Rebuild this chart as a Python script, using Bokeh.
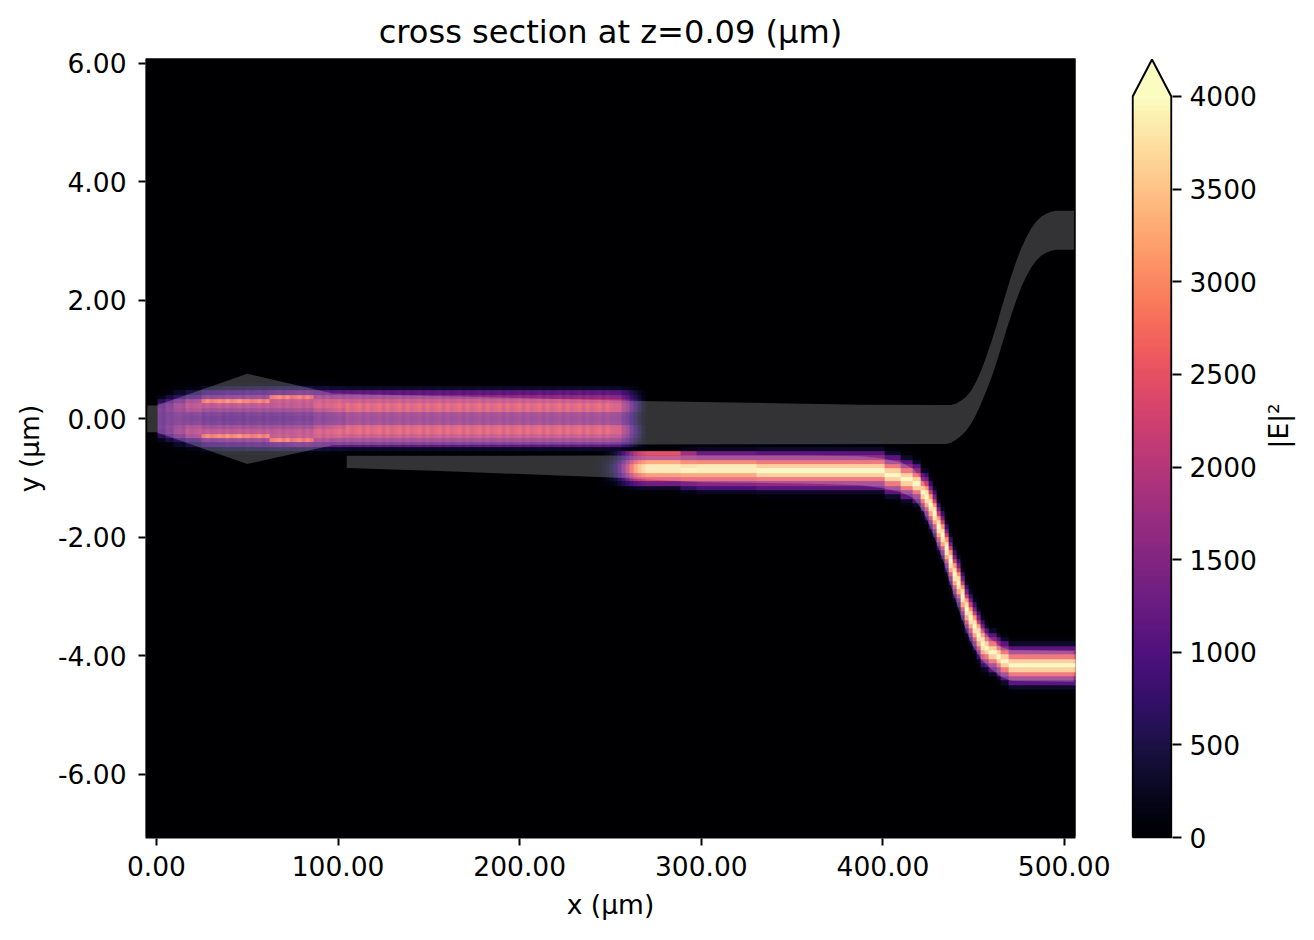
from math import pi

import numpy as np
from bokeh.embed import file_html
from bokeh.layouts import row
from bokeh.models import FixedTicker, LinearColorMapper, NumeralTickFormatter, Range1d
from bokeh.palettes import Magma256
from bokeh.plotting import figure
from bokeh.resources import INLINE

FONT = "DejaVu Sans"

x_ticks = [0, 100, 200, 300, 400, 500]
y_ticks = [-6, -4, -2, 0, 2, 4, 6]
cbar_ticks = [0, 500, 1000, 1500, 2000, 2500, 3000, 3500, 4000]

# waveguide outlines (um)
upper_guide_x = [-5, 0, 50, 97, 267, 388, 434.7, 437.4, 440.2, 442.9, 445.7, 448.5, 451.2, 454, 456.7, 459.5, 462.3, 465, 467.8, 470.5,
                 473.3, 476, 478.8, 481.5, 484.3, 487.1, 489.8, 492.6, 495.3, 498, 505.2,
                 505.2, 498, 495.3, 492.6, 489.8, 487.1, 484.3, 481.5, 478.8, 476, 473.3, 470.5, 467.8, 465, 462.3, 459.5,
                 456.7, 454, 451.2, 448.5, 445.7, 442.9, 440.2, 437.4, 434.7, 100, 97, 50, 0, -5]
upper_guide_y = [0.225, 0.225, 0.76, 0.43, 0.30, 0.24, 0.236, 0.236, 0.253, 0.304, 0.371, 0.473, 0.624, 0.81, 1.03, 1.283, 1.553, 1.84, 2.127, 2.397,
                 2.65, 2.869, 3.055, 3.207, 3.325, 3.409, 3.46, 3.494, 3.51, 3.51, 3.51,
                 2.852, 2.852, 2.852, 2.835, 2.802, 2.751, 2.667, 2.549, 2.397, 2.211, 1.992, 1.738, 1.485, 1.198, 0.928, 0.675,
                 0.456, 0.253, 0.068, -0.084, -0.203, -0.287, -0.354, -0.405, -0.422, -0.44, -0.445, -0.76, -0.225, -0.225]
lower_guide_x = [104.8, 250, 300, 355, 388, 400, 410, 417, 422.5, 428, 433.6, 437.4, 442.9, 448.5, 454, 459.5, 465, 470.5, 505,
                 505, 470.5, 465, 459.5, 454, 448.5, 442.9, 437.4, 433.6, 428, 422.5, 417, 410, 400, 388, 355, 300, 250, 156, 104.8]
lower_guide_y = [-0.624, -0.62, -0.62, -0.62, -0.63, -0.67, -0.73, -0.85, -1.08, -1.47, -1.93, -2.31, -2.82, -3.27, -3.54, -3.72, -3.85, -3.90, -3.915,
                 -4.435, -4.42, -4.35, -4.22, -4.05, -3.78, -3.33, -2.82, -2.43, -1.97, -1.58, -1.34, -1.24, -1.17, -1.12, -1.09, -1.07, -0.99, -0.878, -0.83]

# |E|^2 across the upper guide, centre row outwards, one list per stretch of x
upper_edges = [0, 5, 10, 16, 24, 35, 50, 62, 74, 86, 95, 105, 252]
upper_rows = [
    [1100, 1100, 1150, 1050, 600, 200, 40, 0, 0],
    [1200, 1200, 1350, 1300, 950, 450, 120, 30, 0],
    [1250, 1300, 1550, 1650, 1300, 700, 300, 80, 10],
    [1200, 1300, 1750, 1950, 1700, 950, 500, 150, 40],
    [1100, 1200, 1600, 1950, 2750, 1400, 850, 300, 70],
    [1050, 1150, 1600, 1950, 2850, 1500, 950, 400, 100],
    [1100, 1200, 1600, 1950, 2700, 1550, 1000, 450, 110],
    [1100, 1200, 1600, 1950, 2050, 2750, 1150, 500, 120],
    [1150, 1250, 1650, 2000, 2050, 2650, 1250, 500, 120],
    [1350, 1400, 1950, 2250, 2150, 1750, 1150, 400, 100],
    [1450, 1500, 2150, 2350, 2200, 1650, 1150, 350, 80],
    [1600, 1650, 2350, 2400, 2100, 1650, 1150, 300, 60],
]
upper_fade_x = [252, 254.2, 256.4, 258.6, 260.8, 263, 265.2, 267.4, 269.6]
upper_fade = [0.95, 0.9, 0.8, 0.65, 0.5, 0.35, 0.2, 0.1]
ripple = [1.04, 0.96, 1.0, 1.05, 0.95]

# lower guide: rows top to bottom around the centre line
lower_entry_rows = [0, 20, 100, 2500, 2000, 3100, 3800, 3800, 3000, 2400, 1300, 300, 50, 0, 0]
lower_mid_rows = [0, 40, 200, 1800, 1800, 2850, 3700, 3900, 3100, 2500, 1450, 700, 150, 30, 0]
lower_near_rows = [0, 50, 250, 1250, 1650, 2800, 3800, 3850, 3100, 2500, 1550, 950, 250, 50, 0]
lower_flat_rows = [0, 80, 300, 1100, 1650, 2600, 3500, 3950, 3500, 2600, 1650, 1100, 300, 80, 0]
lower_bend_rows = [0, 50, 250, 800, 1400, 2200, 3100, 3700, 3950, 3700, 3100, 2200, 1400, 800, 250, 50, 0]
lower_fade_x = [240, 242.2, 244.4, 246.6, 248.8, 251, 253.2, 255.4, 257.6, 259.8, 262, 264.2, 266.4, 268.6, 270.8, 273, 275.2, 277.4]
lower_fade = [0.02, 0.03, 0.05, 0.08, 0.12, 0.18, 0.28, 0.4, 0.55, 0.7, 0.82, 0.9, 0.95, 1.0, 1.0, 1.0, 1.0]
lower_fade_y = -0.86
lower_runs_x = [277.4, 288, 298, 330, 370, 396]
lower_runs_y = [-0.86, -0.86, -0.86, -0.86, -0.88]
bend_x = [396, 398.2, 400.4, 402.6, 404.8, 407, 409.2, 411.4, 413.6, 415.8, 418, 420.2, 422.4, 424.6, 426.8, 429, 431.2, 433.4,
          435.6, 437.8, 440, 442.2, 444.4, 446.6, 448.8, 451, 453.2, 455.4, 457.6, 459.8, 462, 464.2, 466.4, 468.6, 470.8]
bend_y = [-0.90, -0.91, -0.925, -0.94, -0.955, -0.97, -0.99, -1.015, -1.045, -1.08, -1.13, -1.21, -1.33, -1.47, -1.63, -1.80, -1.98, -2.16,
          -2.38, -2.60, -2.80, -3.01, -3.20, -3.38, -3.54, -3.67, -3.77, -3.85, -3.91, -3.97, -4.03, -4.08, -4.12, -4.15, -4.17]
end_x = [473, 506]
end_y = -4.18

dx = 2.2
dy = 0.073
x0 = -6.0
y0 = -96.5 * dy
field = np.zeros((182, 233))


def paint(left, right, centre, rows_, amp=1.0):
    c0 = int(round((left - x0) / dx))
    c1 = int(round((right - x0) / dx))
    r0 = int(round((centre - y0) / dy - 0.5))
    half = len(rows_) // 2
    for i, v in enumerate(rows_):
        r = r0 + half - i
        field[r, c0:c1] = np.maximum(field[r, c0:c1], v * amp)


def mirror(rows_):
    return rows_[:0:-1] + rows_


# upper guide, with the faint column beat seen along it
for i, rows_ in enumerate(upper_rows):
    paint(upper_edges[i], upper_edges[i + 1], 0.0, mirror(rows_))
for i, amp in enumerate(upper_fade):
    paint(upper_fade_x[i], upper_fade_x[i + 1], 0.0, mirror(upper_rows[-1]), amp)
upper_stop = int(round((upper_fade_x[-1] - x0) / dx))
for c in range(upper_stop):
    field[:, c] *= ripple[c % len(ripple)]

# lower guide
for i, amp in enumerate(lower_fade):
    paint(lower_fade_x[i], lower_fade_x[i + 1], lower_fade_y, lower_entry_rows, amp)
run_rows = [lower_entry_rows, lower_mid_rows, lower_near_rows, lower_flat_rows, lower_flat_rows]
for i, y in enumerate(lower_runs_y):
    paint(lower_runs_x[i], lower_runs_x[i + 1], y, run_rows[i])
for i in range(len(bend_x)):
    rows_ = lower_bend_rows if 12 <= i <= 26 else lower_flat_rows
    paint(bend_x[i], bend_x[i] + dx, bend_y[i], rows_)
paint(end_x[0], end_x[1], end_y, lower_flat_rows)

mapper = LinearColorMapper(palette=Magma256, low=0, high=4000)

p = figure(
    width=1110, height=932, x_range=Range1d(-6, 506), y_range=Range1d(-7.08, 6.08),
    title="cross section at z=0.09 (µm)", x_axis_label="x (µm)", y_axis_label="y (µm)",
    output_backend="svg", toolbar_location=None,
    min_border_left=145, min_border_right=35, min_border_top=58, min_border_bottom=94,
)
p.image(image=[field], x=x0, y=y0, dw=field.shape[1] * dx, dh=field.shape[0] * dy, color_mapper=mapper)
p.patch(upper_guide_x, upper_guide_y, fill_color="white", fill_alpha=0.2, line_color=None)
p.patch(lower_guide_x, lower_guide_y, fill_color="white", fill_alpha=0.2, line_color=None)

p.background_fill_color = Magma256[0]
p.grid.visible = False
p.outline_line_color = None
p.title.align = "center"
p.title.text_font = FONT
p.title.text_font_size = "32.1px"
p.title.text_font_style = "normal"
p.title.text_color = "black"
p.title.standoff = 15
p.xaxis.ticker = FixedTicker(ticks=x_ticks)
p.yaxis.ticker = FixedTicker(ticks=y_ticks)
for ax in (p.xaxis[0], p.yaxis[0]):
    ax.formatter = NumeralTickFormatter(format="0.00")
    ax.axis_line_color = None
    ax.major_tick_line_color = "black"
    ax.major_tick_line_width = 2
    ax.major_tick_in = 0
    ax.major_tick_out = 7
    ax.minor_tick_line_color = None
    ax.major_label_text_font = FONT
    ax.major_label_text_font_size = "26.5px"
    ax.major_label_text_color = "black"
    ax.axis_label_text_font = FONT
    ax.axis_label_text_font_size = "26.5px"
    ax.axis_label_text_font_style = "normal"
    ax.axis_label_text_color = "black"
p.xaxis[0].major_label_standoff = 10
p.xaxis[0].axis_label_standoff = 10
p.yaxis[0].major_label_standoff = 12
p.yaxis[0].axis_label_standoff = 10

# colour bar with an "extend" arrow on top
levels = np.linspace(0, 4000, 256).reshape(-1, 1)
cb = figure(
    width=202, height=932, x_range=Range1d(-0.03, 1.03), y_range=Range1d(-5, 4205),
    x_axis_location=None, y_axis_location="right", y_axis_label="|E|²",
    output_backend="svg", toolbar_location=None,
    min_border_left=21, min_border_right=140, min_border_top=58, min_border_bottom=94,
)
cb.image(image=[levels], x=0, y=0, dw=1, dh=4000, color_mapper=mapper)
cb.patch([0, 0.5, 1], [4000, 4205, 4000], fill_color=Magma256[-1], line_color=None)
cb.line([0, 0, 0.5, 1, 1, 0], [0, 4000, 4200, 4000, 0, 0], line_color="black", line_width=2)
cb.grid.visible = False
cb.outline_line_color = None
cb.yaxis.ticker = FixedTicker(ticks=cbar_ticks)
ax = cb.yaxis[0]
ax.axis_line_color = None
ax.major_tick_line_color = "black"
ax.major_tick_line_width = 2
ax.major_tick_in = 0
ax.major_tick_out = 9
ax.minor_tick_line_color = None
ax.major_label_text_font = FONT
ax.major_label_text_font_size = "26.5px"
ax.major_label_text_color = "black"
ax.major_label_standoff = 8
ax.axis_label_text_font = FONT
ax.axis_label_text_font_size = "26.5px"
ax.axis_label_text_font_style = "normal"
ax.axis_label_text_color = "black"
ax.axis_label_standoff = 19
ax.axis_label_orientation = pi / 2

layout = row(p, cb)
open("out.html", "w").write(file_html(layout, INLINE))
